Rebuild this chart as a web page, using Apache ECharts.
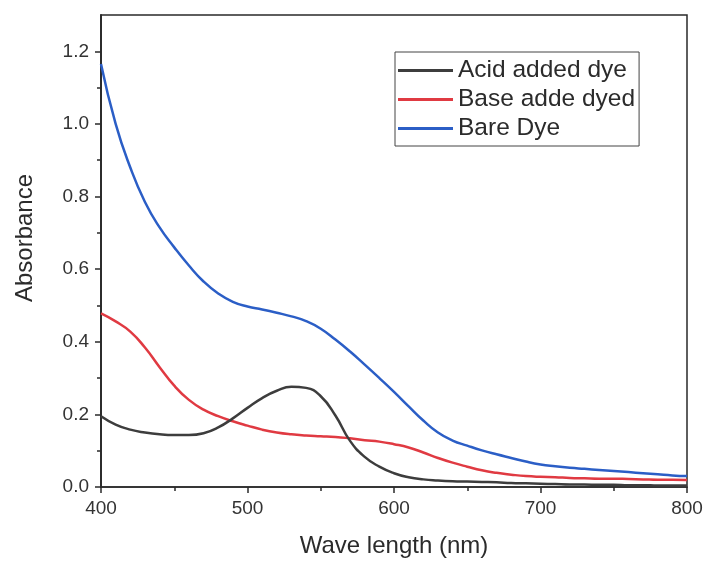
<!DOCTYPE html>
<html>
<head>
<meta charset="utf-8">
<title>Absorbance spectra</title>
<script src="https://cdn.jsdelivr.net/npm/echarts@6/dist/echarts.min.js"></script>
<style>
  html, body { margin: 0; padding: 0; background: #fff; }
  #chart { width: 707px; height: 563px; }
</style>
</head>
<body>
<div id="chart"></div>
<script>
// Wavelengths (nm), sampled every 10 nm
const wavelengths = [400,410,420,430,440,450,460,470,480,490,500,510,520,530,540,550,560,570,580,590,600,
                     610,620,630,640,650,660,670,680,690,700,710,720,730,740,750,760,770,780,790,800];

const seriesNames = ['Acid added dye', 'Base adde dyed', 'Bare Dye'];

// Absorbance readings
const acidAdded = [0.195,0.172,0.158,0.150,0.145,0.143,0.143,0.148,0.164,0.189,0.218,0.245,0.265,0.276,0.273,0.250,0.197,0.127,0.083,0.056,0.038,
                   0.027,0.021,0.018,0.016,0.015,0.014,0.013,0.011,0.010,0.009,0.008,0.007,0.007,0.006,0.006,0.005,0.005,0.004,0.004,0.004];
const baseAdded = [0.478,0.456,0.428,0.384,0.330,0.279,0.240,0.213,0.195,0.181,0.169,0.158,0.150,0.145,0.142,0.140,0.138,0.134,0.129,0.125,0.118,
                   0.109,0.095,0.080,0.067,0.056,0.046,0.039,0.034,0.030,0.028,0.027,0.025,0.024,0.023,0.023,0.022,0.021,0.020,0.020,0.019];
const bareDye   = [1.165,1.000,0.880,0.785,0.715,0.660,0.610,0.566,0.533,0.510,0.497,0.489,0.480,0.470,0.457,0.436,0.406,0.373,0.337,0.300,0.262,
                   0.222,0.183,0.150,0.128,0.114,0.101,0.090,0.080,0.070,0.062,0.057,0.053,0.050,0.047,0.044,0.041,0.038,0.035,0.032,0.030];

const seriesValues = [acidAdded, baseAdded, bareDye];
const seriesColors = ['#3d3d3d', '#e03a42', '#2b5ec6'];

// Axis ticks
const xTicks = [400, 500, 600, 700, 800];
const yMajorTicks = [0.0, 0.2, 0.4, 0.6, 0.8, 1.0, 1.2];
const yMinorTicks = [0.1, 0.3, 0.5, 0.7, 0.9, 1.1];

const axisColor = '#2a2a2a';
const labelColor = '#333';
const fontFamily = 'Liberation Sans, Arial, sans-serif';

function pairs(values) {
  return wavelengths.map((w, i) => [w, values[i]]);
}

const chart = echarts.init(document.getElementById('chart'), null, { renderer: 'canvas' });

const yBase = {
  type: 'value',
  min: 0,
  max: 1.3,
  position: 'left',
  splitLine: { show: false },
  axisLine: { show: true, lineStyle: { color: axisColor, width: 1.5 } }
};

chart.setOption({
  animation: false,
  backgroundColor: '#fff',
  grid: {
    left: 101, top: 15, right: 20, bottom: 74,
    show: true, borderColor: axisColor, borderWidth: 1.5
  },
  legend: {
    orient: 'vertical',
    left: 395,
    top: 52,
    data: seriesNames.map(n => ({ name: n, icon: 'rect' })),
    itemWidth: 55,
    itemHeight: 3,
    itemGap: 4,
    padding: [6, 4, 5, 3],
    borderColor: '#444',
    borderWidth: 1,
    textStyle: { fontSize: 24.5, lineHeight: 25, color: '#2b2b2b', fontFamily: fontFamily }
  },
  xAxis: {
    type: 'value',
    min: 400,
    max: 800,
    interval: 100,
    name: 'Wave length (nm)',
    nameLocation: 'middle',
    nameGap: 47,
    nameTextStyle: { fontSize: 24, color: '#2b2b2b', fontFamily: fontFamily },
    splitLine: { show: false },
    axisLine: { show: true, lineStyle: { color: axisColor, width: 1.5 } },
    axisTick: { show: true, inside: false, length: 6, lineStyle: { color: axisColor, width: 1.5 },
                customValues: xTicks },
    minorTick: { show: true, splitNumber: 2, length: 4, lineStyle: { color: axisColor, width: 1.5 } },
    axisLabel: { fontSize: 19, color: labelColor, margin: 12, fontFamily: fontFamily,
                 customValues: xTicks }
  },
  yAxis: [
    Object.assign({}, yBase, {
      name: 'Absorbance',
      nameLocation: 'middle',
      nameGap: 64,
      nameTextStyle: { fontSize: 24, color: '#2b2b2b', fontFamily: fontFamily, padding: [0, 0, 0, 26] },
      axisTick: { show: true, inside: false, length: 6, lineStyle: { color: axisColor, width: 1.5 },
                  customValues: yMajorTicks },
      axisLabel: { fontSize: 19, color: labelColor, margin: 12, fontFamily: fontFamily,
                   customValues: yMajorTicks,
                   formatter: v => v.toFixed(1) }
    }),
    Object.assign({}, yBase, {
      axisTick: { show: true, inside: false, length: 4, lineStyle: { color: axisColor, width: 1.5 },
                  customValues: yMinorTicks },
      axisLabel: { show: false }
    })
  ],
  series: seriesNames.map((name, i) => ({
    name: name,
    type: 'line',
    data: pairs(seriesValues[i]),
    yAxisIndex: 0,
    smooth: 0.5,
    symbol: 'none',
    lineStyle: { color: seriesColors[i], width: 2.5 },
    itemStyle: { color: seriesColors[i] },
    z: 3 + (2 - i)
  }))
});
</script>
</body>
</html>
